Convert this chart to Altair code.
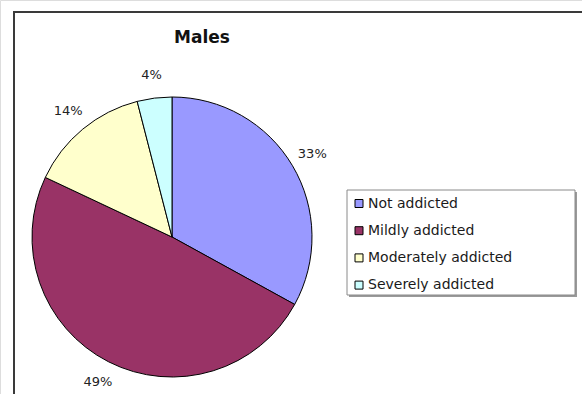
import altair as alt
import pandas as pd

# Survey shares for males, in percent
categories = ["Not addicted", "Mildly addicted", "Moderately addicted", "Severely addicted"]
shares = [33, 49, 14, 4]
slice_order = [1, 2, 3, 4]
palette = ["#9999FF", "#993366", "#FFFFCC", "#CCFFFF"]

df = pd.DataFrame({
    "category": categories,
    "share": shares,
    "order": slice_order,
    "label": [f"{s}%" for s in shares],
})

FONT = "DejaVu Sans"
CX, CY, R = 172, 237, 140

base = alt.Chart(df).encode(
    theta=alt.Theta("share:Q", stack=True),
    order=alt.Order("order:Q"),
)

slices = base.mark_arc(stroke="#000000", strokeWidth=1).encode(
    color=alt.Color(
        "category:N",
        scale=alt.Scale(domain=categories, range=palette),
        sort=categories,
        legend=alt.Legend(
            title=None,
            orient="none",
            legendX=352,
            legendY=196.5,
            symbolType="square",
            symbolSize=64,
            symbolStrokeColor="#000000",
            symbolStrokeWidth=1,
            symbolOpacity=1,
            labelFont=FONT,
            labelFontSize=14,
            labelColor="#1a1a1a",
            labelOffset=2,
            rowPadding=13.2,
            padding=0,
        ),
    ),
    x=alt.value(CX),
    y=alt.value(CY),
    radius=alt.value(R),
)

labels = base.mark_text(font=FONT, fontSize=13, color="#222222").encode(
    text="label:N",
    x=alt.value(CX),
    y=alt.value(CY),
    radius=alt.value(163),
)

frame_data = alt.Data(values=[{}])

# outer chart frame (right and bottom edges run off the canvas)
frame = alt.Chart(frame_data).mark_rect(
    fill="white", stroke="#3a3a3a", strokeWidth=2
).encode(
    x=alt.value(14), x2=alt.value(700), y=alt.value(12), y2=alt.value(500)
)

# legend box with a soft drop shadow
legend_shadow = alt.Chart(frame_data).mark_rect(fill="#9a9a9a").encode(
    x=alt.value(349), x2=alt.value(577), y=alt.value(192), y2=alt.value(297)
)
legend_box = alt.Chart(frame_data).mark_rect(
    fill="white", stroke="#8a8a8a", strokeWidth=1
).encode(
    x=alt.value(347), x2=alt.value(575), y=alt.value(190), y2=alt.value(295)
)

chart = alt.layer(frame, legend_shadow, legend_box, slices, labels).properties(
    width=582,
    height=394,
    padding=0,
    autosize=alt.AutoSizeParams(type="none"),
    title=alt.TitleParams(
        "Males",
        font=FONT,
        fontSize=17,
        fontWeight="bold",
        color="#111111",
        anchor="middle",
        frame="group",
        baseline="alphabetic",
        offset=0,
        dx=-89,
        dy=60,
    ),
).configure_view(stroke=None).configure(background="white")

chart.save("out.html", embed_options={"renderer": "svg", "actions": False})
